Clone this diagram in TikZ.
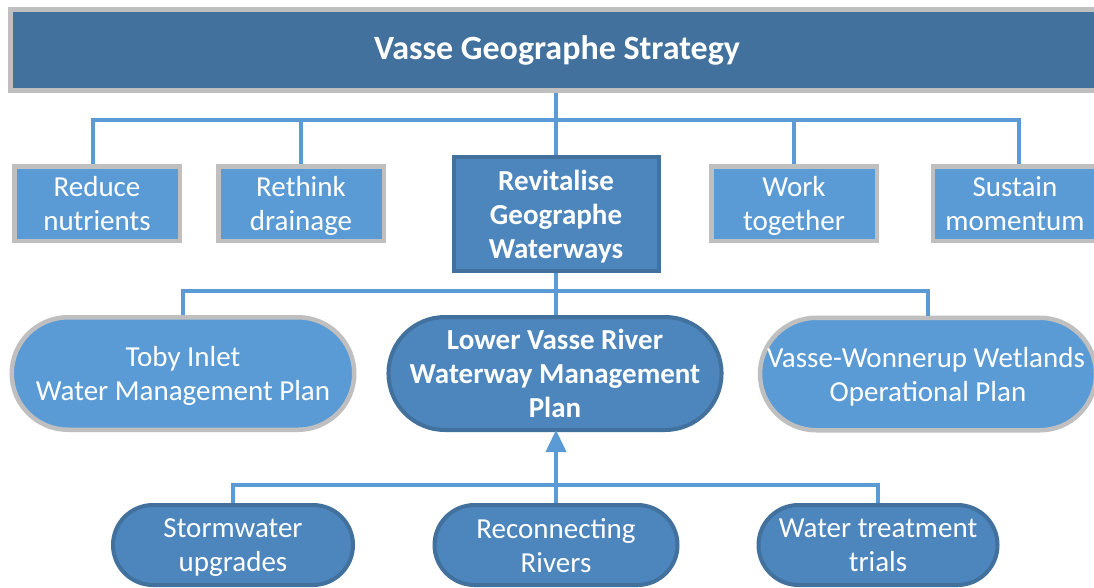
\documentclass[tikz,border=0pt]{standalone}
\usepackage{fontspec}
\setmainfont{Carlito}
\usetikzlibrary{shapes.misc,arrows.meta}
\definecolor{topblue}{HTML}{41719C}
\definecolor{lightblue}{HTML}{5B9BD5}
\definecolor{midblue}{HTML}{4D85BD}
\definecolor{greyedge}{HTML}{BFBFBF}
\definecolor{darkedge}{HTML}{41719C}
\definecolor{linkblue}{HTML}{5B9BD5}
\tikzset{
  txt/.style={text=white, align=center, font=\fontsize{29}{34}\selectfont, inner sep=0pt},
  btxt/.style={text=white, align=center, font=\fontsize{29}{34}\selectfont\bfseries, inner sep=0pt},
  lightbox/.style={txt, rectangle, fill=lightblue, draw=greyedge, line width=4.5pt, minimum width=165.5pt, minimum height=74.5pt},
  revbox/.style={btxt, rectangle, fill=midblue, draw=darkedge, line width=4pt, minimum width=205pt, minimum height=114pt},
  lightpill/.style={txt, rounded rectangle, fill=lightblue, draw=greyedge, line width=4.5pt, minimum height=112.5pt},
  darkpill/.style={txt, rounded rectangle, fill=midblue, draw=darkedge, line width=4pt, minimum height=113pt},
  smallpill/.style={txt, rounded rectangle, fill=midblue, draw=darkedge, line width=4pt, minimum height=80pt},
  link/.style={draw=linkblue, line width=4pt},
}
\begin{document}
\begin{tikzpicture}[x=1pt,y=-1pt]
\useasboundingbox (0,0) rectangle (1094,587);
\clip (0,0) rectangle (1094,587);
\fill[white] (0,0) rectangle (1094,587);

\node[rectangle, fill=topblue, draw=greyedge, line width=5pt, minimum width=1093pt, minimum height=81pt,
      text=white, font=\fontsize{34}{40}\selectfont\bfseries] (title) at (557,50) {Vasse Geographe Strategy};

\node[lightbox] (reduce) at (97,203.5) {Reduce\\\smash{nutrients}};
\node[lightbox] (rethink) at (301,203.5) {Rethink\\\smash{drainage}};
\node[revbox] (rev) at (556,214) {Revitalise\\Geographe\\\smash{Waterways}};
\node[lightbox] (work) at (794,203.5) {Work\\\smash{together}};
\node[lightbox, minimum width=172pt] (sustain) at (1019,203.5) {\hspace*{-8pt}Sustain\\\hspace*{-8pt}\smash{momentum}};

\node[lightpill, minimum width=342.5pt] (toby) at (183,373.5) {Toby Inlet\\\smash{Water Management Plan}};
\node[darkpill, btxt, minimum width=324pt] (lower) at (555,373.5) {Lower Vasse River\\Waterway Management\\\smash{Plan}};
\node[lightpill, minimum width=336pt] (wonn) at (928,374) {\hspace*{-4pt}Vasse-Wonnerup Wetlands\\\smash{Operational Plan}};

\node[smallpill, minimum width=240pt] (storm) at (233,545) {Stormwater\\\smash{upgrades}};
\node[smallpill, minimum width=243pt] (recon) at (556,545) {Reconnecting\\\smash{Rivers}};
\node[smallpill, minimum width=239pt] (treat) at (878,545) {Water treatment\\\smash{trials}};

\coordinate (busA) at (0,120);
\coordinate (busB) at (0,291);
\coordinate (busC) at (0,485);

\draw[link] (rev.north) -- (rev.north |- title.south);
\draw[link] ([xshift=-4pt]reduce.north) |- (busA -| sustain.north) -- (sustain.north);
\draw[link] (rethink.north) -- (rethink.north |- busA);
\draw[link] (work.north) -- (work.north |- busA);

\draw[link] (rev.south) -- (rev.south |- lower.north);
\draw[link] (toby.north) |- (busB -| wonn.north) -- (wonn.north);

\draw[link] (storm.north) |- (busC -| treat.north) -- (treat.north);
\draw[link, -{Triangle[width=20pt,length=22pt]}] (recon.north) -- ([yshift=2pt]recon.north |- lower.south);
\end{tikzpicture}
\end{document}
